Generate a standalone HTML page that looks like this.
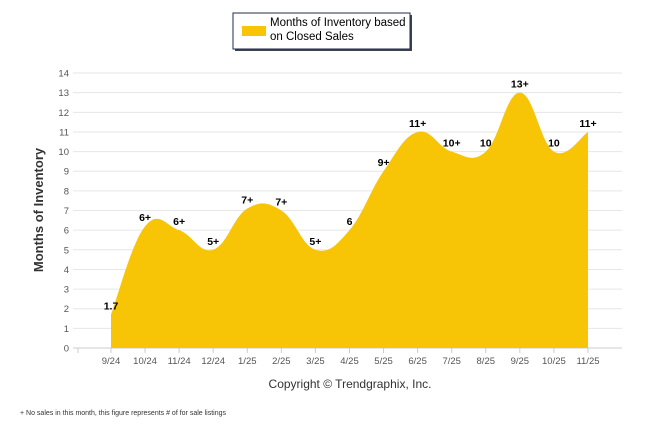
<!DOCTYPE html>
<html><head><meta charset="utf-8"><style>
body{margin:0;background:#fff;width:646px;height:434px;overflow:hidden;font-family:"Liberation Sans",sans-serif}
</style></head><body>
<svg width="646" height="434" style="position:absolute;left:0;top:0">
<g id="grid"></g>
<g id="yt"></g>
<g id="xt"></g>
<path id="area" fill="#F7C506"></path>
<g id="lbl"></g>
<text x="43" y="210" transform="rotate(-90 43 210)" text-anchor="middle" font-size="13" font-weight="bold" fill="#333">Months of Inventory</text>
<text x="350" y="388" text-anchor="middle" font-size="12" fill="#333">Copyright © Trendgraphix, Inc.</text>
<text x="20" y="415" font-size="7" fill="#333">+  No sales in this month, this figure represents # of for sale listings</text>
<g>
<rect x="235" y="15" width="177" height="36" fill="#444"/>
<rect x="233" y="13" width="177" height="36" fill="#fff" stroke="#1d2b55" stroke-width="1"/>
<rect x="242" y="26" width="24" height="10" fill="#F7C506"/>
<text x="270" y="26" font-size="11.5" fill="#000">Months of Inventory based</text>
<text x="270" y="40" font-size="11.5" fill="#000">on Closed Sales</text>
</g>
</svg>
<script>
const categories=["9/24","10/24","11/24","12/24","1/25","2/25","3/25","4/25","5/25","6/25","7/25","8/25","9/25","10/25","11/25"];
const values=[1.7,6.2,6,5,7.1,7,5,6,9,11,10,10,13,10,11];
const labels=["1.7","6+","6+","5+","7+","7+","5+","6","9+","11+","10+","10","13+","10","11+"];
const yTicks=[0,1,2,3,4,5,6,7,8,9,10,11,12,13,14];
const NS="http://www.w3.org/2000/svg";
const X=i=>111+i*34.07, Y=v=>348-v*19.64;
function mk(t,a,p){const e=document.createElementNS(NS,t);for(const k in a)e.setAttribute(k,a[k]);p.appendChild(e);return e;}
const grid=document.getElementById('grid'),yt=document.getElementById('yt'),xt=document.getElementById('xt'),lbl=document.getElementById('lbl');
yTicks.forEach(v=>{
 const l=mk('line',{x1:73,x2:622,y1:Y(v),y2:Y(v),stroke:v===0?'#ccc':'#e6e6e6'},grid);
 
 
 const t=mk('text',{x:69,y:Y(v)+3.5,'text-anchor':'end','font-size':'9.5',fill:'#555'},yt);t.textContent=v;
 
 
});
mk('line',{x1:78,x2:78,y1:348,y2:353,stroke:'#ccc'},xt);
categories.forEach((c,i)=>{
 mk('line',{x1:X(i),x2:X(i),y1:348,y2:353,stroke:'#ccc'},xt);
 const t=mk('text',{x:X(i),y:364,'text-anchor':'middle','font-size':'9.5',fill:'#555'},xt);t.textContent=c;
 
 
});
const pts=values.map((v,i)=>[X(i),Y(v)]);
let d=`M${pts[0][0]},348 L${pts[0][0]},${pts[0][1]}`;
const k=1/5;
for(let i=1;i<pts.length;i++){
 const p0=pts[i-2]||pts[i-1],p1=pts[i-1],p2=pts[i],p3=pts[i+1]||pts[i];
 const c1=[p1[0]+(p2[0]-p0[0])*k,p1[1]+(p2[1]-p0[1])*k];
 const c2=[p2[0]-(p3[0]-p1[0])*k,p2[1]-(p3[1]-p1[1])*k];
 d+=` C${c1[0]},${c1[1]} ${c2[0]},${c2[1]} ${p2[0]},${p2[1]}`;
}
d+=` L${pts[pts.length-1][0]},348 Z`;
document.getElementById('area').setAttribute('d',d);
values.forEach((v,i)=>{
 const t=mk('text',{x:X(i),y:Y(v)-5,'text-anchor':'middle','font-size':'10.5','font-weight':'bold',fill:'#000'},lbl);
 t.textContent=labels[i];
 
 
});
</script>
</body></html>
